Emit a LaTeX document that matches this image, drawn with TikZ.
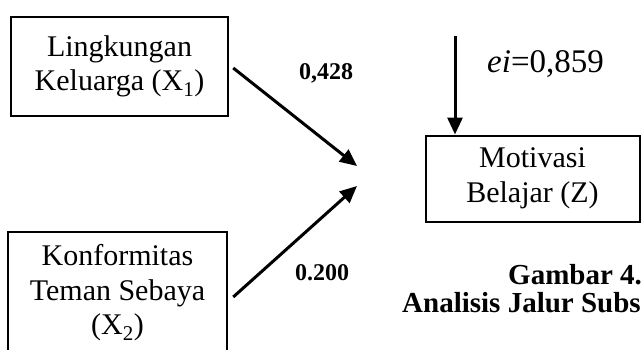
\documentclass[tikz,border=0pt]{standalone}
\usepackage{fontspec}
\setmainfont{Liberation Serif}
\usetikzlibrary{arrows.meta}
\begin{document}
\begin{tikzpicture}[x=1pt,y=-1pt,
  box/.style={draw,line width=2.5pt,align=center,inner sep=0pt,font=\fontsize{30}{34.5}\selectfont},
  arr/.style={line width=3pt,-{Triangle[length=17pt,width=15pt]}},
  coef/.style={font=\fontsize{24}{24}\selectfont\bfseries,anchor=base},
  capt/.style={font=\fontsize{29}{29}\selectfont\bfseries,anchor=base west}]
\useasboundingbox (0,0) rectangle (641,349);
\clip (0,0) rectangle (641,349);
\node[box,minimum width=217pt,minimum height=99pt] (x1) at (119.5,66.5)
  {Lingkungan\\Keluarga (X\textsubscript{1})};
\node[box,minimum width=219pt,minimum height=122pt] (x2) at (117.5,293)
  {Konformitas\\Teman Sebaya\\(X\textsubscript{2})};
\node[box,line width=2pt,minimum width=214pt,minimum height=86pt] (z) at (532.5,178.5)
  {Motivasi\\Belajar (Z)};
\coordinate (t1) at (357,166);
\coordinate (t2) at (357,186);
\coordinate (etop) at (455,36);
\draw[arr] ([xshift=4pt,yshift=-1.5pt]x1.east) -- (t1);
\draw[arr] ([xshift=5pt,yshift=-4pt]x2.east) -- (t2);
\draw[arr] (etop) -- (etop |- z.north);
\node[coef] (c1) at (326,79) {0,428};
\node[coef] (c2) at (322,280) {0.200};
\node[font=\fontsize{33}{33}\selectfont,anchor=base west,inner sep=0pt] (ei) at (487,72) {\textit{ei}=0,859};
\node[capt,inner sep=0pt] (g1) at (508,284) {Gambar 4.};
\node[capt,inner sep=0pt] (g2) at (402,312) {Analisis Jalur Subs};
\end{tikzpicture}
\end{document}
